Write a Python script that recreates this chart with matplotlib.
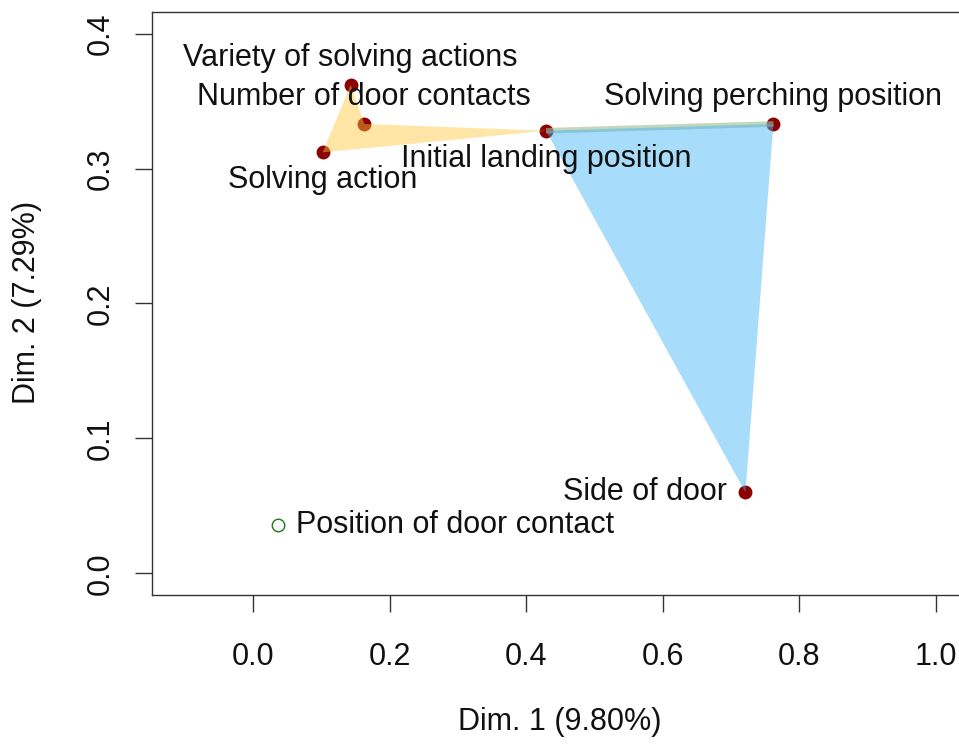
import matplotlib.pyplot as plt
from matplotlib.patches import Polygon

plt.rcParams['font.family'] = ['Liberation Sans', 'DejaVu Sans']

# variable coordinates on the first two dimensions
labels = ["Variety of solving actions", "Number of door contacts", "Solving action",
          "Initial landing position", "Solving perching position", "Side of door",
          "Position of door contact"]
dim1 = [0.143, 0.163, 0.102, 0.429, 0.762, 0.721, 0.036]
dim2 = [0.362, 0.333, 0.312, 0.328, 0.333, 0.060, 0.0355]
active = [True, True, True, True, True, True, False]

# cluster outlines, as indices into the arrays above
group_yellow = [2, 0, 1, 3]
group_blue = [3, 4, 5]
shared_edge = [3, 4]

xticks = [0.0, 0.2, 0.4, 0.6, 0.8, 1.0]
yticks = [0.0, 0.1, 0.2, 0.3, 0.4]

# where each label sits relative to its point
label_pos = {0: "above", 1: "above", 2: "below", 3: "below",
             4: "above", 5: "left", 6: "right"}

FS = 22
YEL = "#FFC83C"
BLU = "#3CB4F5"

fig = plt.figure(figsize=(9.59, 7.44), dpi=100)
ax = fig.add_axes([152 / 959, 149 / 744, 885 / 959, 583 / 744])
ax.set_xlim(-0.148, 1.148)
ax.set_ylim(-0.016, 0.416)

# points
for i in range(len(labels)):
    if active[i]:
        ax.plot(dim1[i], dim2[i], "o", color="#8B0000", markersize=10,
                markeredgewidth=0, zorder=2)
    else:
        ax.plot(dim1[i], dim2[i], "o", markerfacecolor="none",
                markeredgecolor="#1a7a1a", markersize=9, markeredgewidth=1.0, zorder=2)

# translucent group polygons over the points
ax.add_patch(Polygon([(dim1[i], dim2[i]) for i in group_yellow], closed=True,
                     facecolor=YEL, alpha=0.45, edgecolor="none", zorder=3))
ex = [dim1[i] for i in shared_edge]
ey = [dim2[i] for i in shared_edge]
ax.plot(ex, ey, color=YEL, alpha=0.45, linewidth=4, solid_capstyle="butt", zorder=3)
ax.add_patch(Polygon([(dim1[i], dim2[i]) for i in group_blue], closed=True,
                     facecolor=BLU, alpha=0.45, edgecolor="none", zorder=4))
ax.plot(ex, ey, color=BLU, alpha=0.3, linewidth=4, solid_capstyle="butt", zorder=4)

offsets = {"above": ((0, 19.5), "center", "center"),
           "below": ((0, -20), "center", "center"),
           "left": ((-13, 0), "right", "center"),
           "right": ((13, 0), "left", "center")}
for i, name in enumerate(labels):
    off, ha, va = offsets[label_pos[i]]
    ax.annotate(name, (dim1[i], dim2[i]), xytext=off, textcoords="offset points",
                ha=ha, va=va, fontsize=FS, color="#111111", zorder=5)

for s in ax.spines.values():
    s.set_color("#333333")
    s.set_linewidth(1.0)

ax.set_xticks(xticks)
ax.set_xticklabels([f"{t:.1f}" for t in xticks])
ax.set_yticks(yticks)
ax.set_yticklabels([f"{t:.1f}" for t in yticks], rotation=90, va="center")
ax.tick_params(axis="both", direction="out", length=12, width=1.0,
               color="#333333", labelsize=FS, labelcolor="#111111")
ax.tick_params(axis="x", pad=22)
ax.tick_params(axis="y", pad=14)

fig.text(560 / 959, 1 - 722 / 744, "Dim. 1 (9.80%)", ha="center", va="center",
         fontsize=FS, color="#111111")
fig.text(27 / 959, 1 - 302 / 744, "Dim. 2 (7.29%)", ha="center", va="center",
         rotation=90, fontsize=FS, color="#111111")

fig.savefig("out.png", dpi=100)
